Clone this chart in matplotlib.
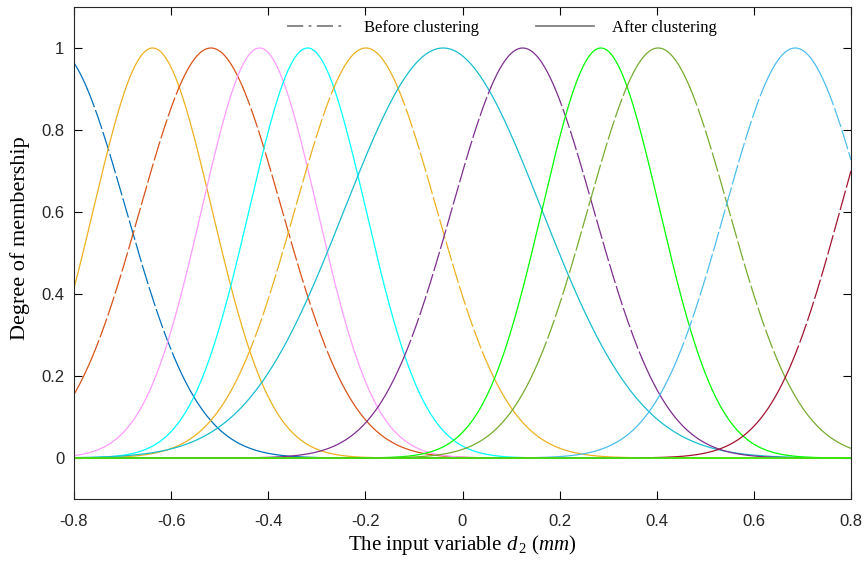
import numpy as np
import matplotlib
matplotlib.use('Agg')
import matplotlib.pyplot as plt
from matplotlib.lines import Line2D

plt.rcParams['mathtext.fontset'] = 'custom'
plt.rcParams['mathtext.rm'] = 'Liberation Serif'
plt.rcParams['mathtext.it'] = 'Liberation Serif:italic'

# gaussian membership functions (center, sigma)
centers = [-0.840, -0.638, -0.518, -0.418, -0.319, -0.199, -0.040, 0.124, 0.285, 0.403, 0.685, 0.919, 2.5, 3.0]
sigmas  = [0.147, 0.122, 0.146, 0.119, 0.120, 0.146, 0.203, 0.146, 0.121, 0.145, 0.144, 0.141, 0.10, 0.10]
colors  = ['#0072BD', '#EDB120', '#D95319', '#FF9CFF', '#00FFFF', '#EDB120', '#17BECF',
           '#7E2F8E', '#00FF00', '#77AC30', '#4DBEEE', '#A2142F', '#EDB120', '#00FF00']
before  = [True, False, True, False, False, True, False, True, False, True, True, True, False, False]

xticks = [-0.8, -0.6, -0.4, -0.2, 0, 0.2, 0.4, 0.6, 0.8]
xticklabels = ['-0.8', '-0.6', '-0.4', '-0.2', '0', '0.2', '0.4', '0.6', '0.8']
yticks = [0, 0.2, 0.4, 0.6, 0.8, 1]
yticklabels = ['0', '0.2', '0.4', '0.6', '0.8', '1']

x = np.linspace(-0.8, 0.8, 1600)

fig = plt.figure(figsize=(8.67, 5.62), dpi=100)
ax = fig.add_axes([74/867, 1-499/562, (851-74)/867, (499-7)/562])

for c, s, col, b in zip(centers, sigmas, colors, before):
    y = np.exp(-(x - c)**2 / (2*s**2))
    if b:
        # the dashes only show up on the steep parts in the original
        steep = np.abs(np.gradient(y, x)) > 2.8
        grow = steep | np.roll(steep, 1) | np.roll(steep, -1)
        ax.plot(x, np.where(grow, y, np.nan), color=col, lw=0.9, linestyle=(0, (16, 2.5)))
        ax.plot(x, np.where(~steep, y, np.nan), color=col, lw=0.9, linestyle='-')
    else:
        ax.plot(x, y, color=col, lw=0.9, linestyle='-')

ax.set_xlim(-0.8, 0.8)
ax.set_ylim(-0.1, 1.1)
ax.set_xticks(xticks)
ax.set_xticklabels(xticklabels)
ax.set_yticks(yticks)
ax.set_yticklabels(yticklabels)
ax.tick_params(direction='in', top=True, right=True, length=6, width=0.8)
ax.tick_params(axis='x', pad=11)
ax.tick_params(axis='y', pad=7)
for lab in ax.get_xticklabels() + ax.get_yticklabels():
    lab.set_family('Liberation Sans')
    lab.set_fontsize(12)
    lab.set_color('#262626')
for sp in ax.spines.values():
    sp.set_linewidth(0.8)
    sp.set_color('#262626')

ax.set_xlabel(r'The input variable $\mathit{d}_{\,2}$ $\mathit{(mm)}$', family='Liberation Serif',
              fontsize=15, labelpad=3)
ax.set_ylabel('Degree of membership', family='Liberation Serif', fontsize=16)
ax.yaxis.set_label_coords(-0.057, 0.53)

handles = [Line2D([], [], color='#808080', lw=1.3, linestyle=(0, (9, 3, 1.5, 3))),
           Line2D([], [], color='#808080', lw=1.3, linestyle='-')]
ax.legend(handles, ['Before clustering', 'After clustering'], loc='center',
          bbox_to_anchor=(0.551, 1 - 21/492), ncol=2, frameon=False, handlelength=3.5,
          handletextpad=1.1, columnspacing=3.4, prop={'family': 'Liberation Serif', 'size': 12})

fig.savefig('out.png', dpi=100)
